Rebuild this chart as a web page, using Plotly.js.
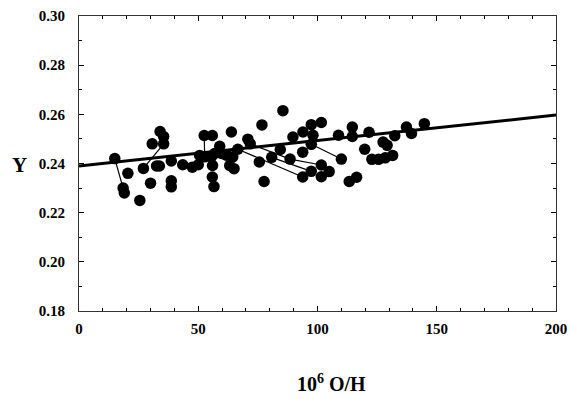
<!DOCTYPE html>
<html>
<head>
<meta charset="utf-8">
<script src="https://cdn.plot.ly/plotly-3.0.1.min.js"></script>
<style>html,body{margin:0;padding:0;background:#fff;}#chart{width:572px;height:399px;}</style>
</head>
<body>
<div id="chart"></div>
<script>
// Observed points: 10^6 O/H and helium mass fraction Y
const ohValues = [15, 18.5, 19, 20.5, 25.5, 27, 30, 30.7, 32.5, 33.7,
  34, 35.5, 35.5, 38.7, 38.7, 38.7, 43.5, 47.5, 50, 50.6,
  52.5, 52.7, 55.9, 55.5, 56.9, 56, 55.9, 56.6, 59, 59.7,
  61.8, 63.9, 64.5, 63.2, 65, 66.6, 70.8, 71.8, 75.6, 76.7,
  77.6, 80.8, 84.4, 85.5, 88.5, 89.7, 93.9, 93.8, 93.8, 97.4,
  98.1, 97.4, 97.4, 101.6, 101.6, 101.6, 104.9, 108.8, 110, 113.3,
  116.4, 114.6, 114.6, 119.8, 121.6, 122.8, 125.6, 128.4, 131.5, 127.5,
  129.2, 132.4, 137.3, 139.4, 144.8];
const yValues = [0.242, 0.230, 0.228, 0.236, 0.225, 0.238, 0.232, 0.248, 0.239, 0.239,
  0.253, 0.251, 0.248, 0.241, 0.233, 0.2305, 0.2395, 0.2385, 0.2395, 0.2433,
  0.2514, 0.2427, 0.2514, 0.2427, 0.2441, 0.2392, 0.2345, 0.2306, 0.247, 0.2441,
  0.2434, 0.2528, 0.2427, 0.2392, 0.2379, 0.2458, 0.2499, 0.248, 0.2406, 0.2557,
  0.2327, 0.2425, 0.2457, 0.2615, 0.2418, 0.2508, 0.2528, 0.2446, 0.2345, 0.2558,
  0.2515, 0.2478, 0.2368, 0.2567, 0.2394, 0.2346, 0.2367, 0.2515, 0.2418, 0.2327,
  0.2344, 0.2548, 0.251, 0.2458, 0.2527, 0.2417, 0.2417, 0.2423, 0.2433, 0.2487,
  0.2474, 0.2513, 0.2548, 0.2522, 0.2562];
// Pairs of measurements of the same object joined by thin lines (indices into the arrays above)
const linkedPairs = [[0, 1], [5, 12], [20, 21], [35, 48], [37, 44], [41, 52], [44, 54], [51, 58]];
// Regression line end values
const fitX = [0, 200];
const fitY = [0.239, 0.2597];
// Axis ticks
const xTickVals = [0, 50, 100, 150, 200];
const xTickText = ['0', '50', '100', '150', '200'];
const yTickVals = [0.18, 0.20, 0.22, 0.24, 0.26, 0.28, 0.30];
const yTickText = ['0.18', '0.20', '0.22', '0.24', '0.26', '0.28', '0.30'];

const linkX = [], linkY = [];
linkedPairs.forEach(p => {
  linkX.push(ohValues[p[0]], ohValues[p[1]], null);
  linkY.push(yValues[p[0]], yValues[p[1]], null);
});

const FONT = 'Liberation Serif, Times New Roman, serif';
const traces = [
  {x: linkX, y: linkY, mode: 'lines', line: {color: '#000', width: 1.2}, hoverinfo: 'skip', showlegend: false},
  {x: fitX, y: fitY, mode: 'lines', line: {color: '#000', width: 3}, showlegend: false},
  {x: ohValues, y: yValues, mode: 'markers', marker: {color: '#000', size: 11.5, line: {width: 0}}, showlegend: false}
];

const axisCommon = {
  showgrid: false, zeroline: false, showline: true, linecolor: '#333', linewidth: 1,
  mirror: 'ticks', ticks: 'inside', ticklen: 5, tickwidth: 1, tickcolor: '#000',
  tickfont: {family: FONT, size: 15, color: '#000', weight: 'bold'},
  tickmode: 'array', fixedrange: true
};

const layout = {
  width: 572, height: 399,
  margin: {l: 79, r: 16, t: 16, b: 88},
  paper_bgcolor: '#fff', plot_bgcolor: '#fff',
  font: {family: FONT, color: '#000'},
  xaxis: Object.assign({}, axisCommon, {
    range: [0, 200], tickvals: xTickVals, ticktext: xTickText, ticklabelstandoff: 4,
    minor: {ticks: 'inside', ticklen: 3, tickwidth: 1, tickcolor: '#000', dtick: 10, tick0: 0}
  }),
  yaxis: Object.assign({}, axisCommon, {
    range: [0.18, 0.30], tickvals: yTickVals, ticktext: yTickText, ticklabelstandoff: 10,
    minor: {ticks: 'inside', ticklen: 3, tickwidth: 1, tickcolor: '#000', dtick: 0.01, tick0: 0.18}
  }),
  annotations: [
    {text: '<b>10<sup>6</sup> O/H</b>', xref: 'paper', yref: 'paper', x: 0.53, y: -0.245,
     xanchor: 'center', yanchor: 'middle', showarrow: false, font: {family: FONT, size: 20, color: '#000'}},
    {text: '<b>Y</b>', xref: 'paper', yref: 'paper', x: -0.124, y: 0.495,
     xanchor: 'center', yanchor: 'middle', showarrow: false, font: {family: FONT, size: 21, color: '#000'}}
  ]
};

Plotly.newPlot('chart', traces, layout, {displayModeBar: false, staticPlot: true});
</script>
</body>
</html>
